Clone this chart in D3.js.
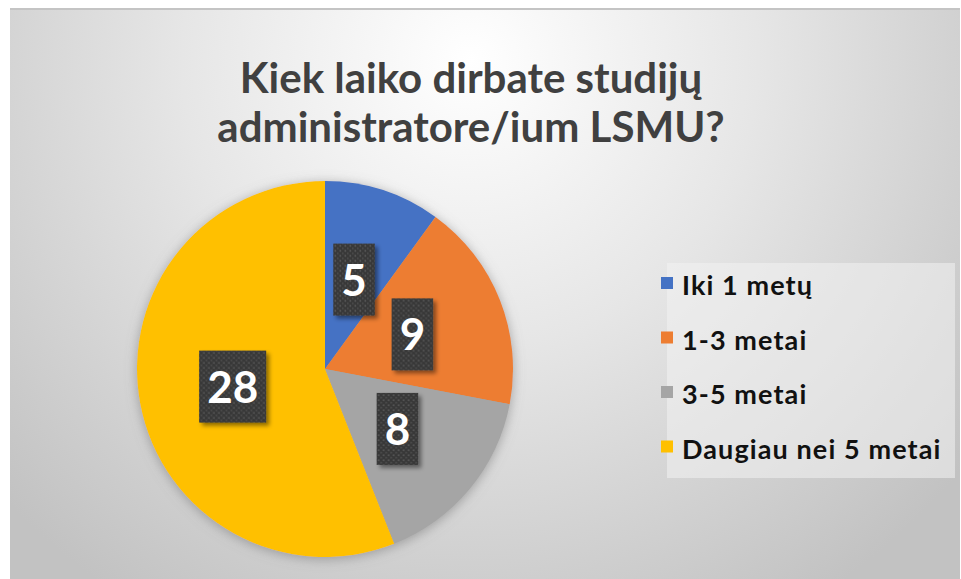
<!DOCTYPE html>
<html>
<head>
<meta charset="utf-8">
<script src="https://cdn.jsdelivr.net/npm/d3@7"></script>
<style>
    html, body { margin: 0; padding: 0; background: #fff; }
    svg { display: block; }
</style>
</head>
<body>
<div id="chart"></div>
<script>
const titleLines = ['Kiek laiko dirbate studijų', 'administratore/ium LSMU?'];
const categories = ['Iki 1 metų', '1-3 metai', '3-5 metai', 'Daugiau nei 5 metai'];
const values = [5, 9, 8, 28];
const colors = ['#4472C4', '#ED7D31', '#A5A5A5', '#FFC000'];

const width = 961, height = 579;
const font = 'Lato, "Open Sans", sans-serif';

const svg = d3.select('#chart')
    .append('svg')
    .attr('width', width)
    .attr('height', height);

const defs = svg.append('defs');

// background gradient: bright near the title, grey towards the edges
const bg = defs.append('radialGradient')
    .attr('id', 'bg')
    .attr('gradientUnits', 'userSpaceOnUse')
    .attr('cx', 470).attr('cy', 60)
    .attr('r', 640);
bg.append('stop').attr('offset', '0%').attr('stop-color', '#ffffff');
bg.append('stop').attr('offset', '45%').attr('stop-color', '#e6e6e6');
bg.append('stop').attr('offset', '100%').attr('stop-color', '#c2c2c2');

const pieShadow = defs.append('filter')
    .attr('id', 'pieShadow')
    .attr('x', '-20%').attr('y', '-20%')
    .attr('width', '140%').attr('height', '140%');
pieShadow.append('feDropShadow')
    .attr('dx', 0).attr('dy', 2)
    .attr('stdDeviation', 6)
    .attr('flood-color', '#777')
    .attr('flood-opacity', 0.6);

const boxShadow = defs.append('filter')
    .attr('id', 'boxShadow')
    .attr('x', '-30%').attr('y', '-30%')
    .attr('width', '160%').attr('height', '160%');
boxShadow.append('feDropShadow')
    .attr('dx', 3).attr('dy', 3)
    .attr('stdDeviation', 2)
    .attr('flood-color', '#000')
    .attr('flood-opacity', 0.45);

// dotted texture for the data label boxes
const dots = defs.append('pattern')
    .attr('id', 'dots')
    .attr('patternUnits', 'userSpaceOnUse')
    .attr('width', 5).attr('height', 5);
dots.append('rect').attr('width', 5).attr('height', 5).attr('fill', '#383838');
dots.append('circle').attr('cx', 1.25).attr('cy', 1.25).attr('r', 0.9).attr('fill', '#5a5a5a');
dots.append('circle').attr('cx', 3.75).attr('cy', 3.75).attr('r', 0.9).attr('fill', '#4e4e4e');

svg.append('rect')
    .attr('x', 10).attr('y', 8)
    .attr('width', 950).attr('height', 571)
    .attr('fill', 'url(#bg)');
svg.append('rect')
    .attr('x', 10).attr('y', 8)
    .attr('width', 950).attr('height', 2)
    .attr('fill', '#c4c4c4');

// title
svg.append('text')
    .attr('font-family', font)
    .attr('font-weight', 700)
    .attr('font-size', 42)
    .attr('fill', '#404040')
    .attr('text-anchor', 'middle')
    .selectAll('tspan')
    .data(titleLines)
    .join('tspan')
    .attr('x', 471)
    .attr('y', (d, i) => 93 + i * 49)
    .text((d) => d);

// pie
const cx = 325, cy = 369, radius = 188;
const pie = d3.pie().sort(null).value((d) => d.value);
const arc = d3.arc().innerRadius(0).outerRadius(radius);
const slices = pie(categories.map((c, i) => ({ name: c, value: values[i], color: colors[i] })));

const pieG = svg.append('g')
    .attr('transform', `translate(${cx},${cy})`);

pieG.append('g')
    .attr('filter', 'url(#pieShadow)')
    .selectAll('path')
    .data(slices)
    .join('path')
    .attr('d', arc)
    .attr('fill', (d) => d.data.color);

const labels = pieG.selectAll('.label')
    .data(slices)
    .join('g')
    .attr('class', 'label')
    .attr('transform', (d) => `translate(${arc.centroid(d)})`);

labels.append('rect')
    .attr('fill', 'url(#dots)')
    .attr('filter', 'url(#boxShadow)');

labels.append('text')
    .attr('font-family', font)
    .attr('font-weight', 700)
    .attr('font-size', 44)
    .attr('fill', '#fff')
    .attr('text-anchor', 'middle')
    .attr('dy', 16)
    .text((d) => d.data.value);

labels.each(function () {
    const t = d3.select(this).select('text').node().getComputedTextLength();
    d3.select(this).select('rect')
        .attr('x', -(t + 16) / 2)
        .attr('y', -36)
        .attr('width', t + 16)
        .attr('height', 72);
});

// legend
const legend = svg.append('g')
    .attr('transform', 'translate(667,263)');

legend.append('rect')
    .attr('width', 288)
    .attr('height', 215)
    .attr('fill', '#f2f2f2')
    .attr('opacity', 0.55);

const items = legend.selectAll('.item')
    .data(categories)
    .join('g')
    .attr('class', 'item')
    .attr('transform', (d, i) => `translate(0, ${32 + i * 54.5})`);

items.append('rect')
    .attr('x', -6)
    .attr('y', -18)
    .attr('width', 12)
    .attr('height', 12)
    .attr('fill', (d, i) => colors[i]);

items.append('text')
    .attr('x', 15)
    .attr('font-family', font)
    .attr('font-weight', 700)
    .attr('font-size', 27)
    .attr('letter-spacing', 1.1)
    .attr('fill', '#111')
    .text((d) => d);
</script>
</body>
</html>
